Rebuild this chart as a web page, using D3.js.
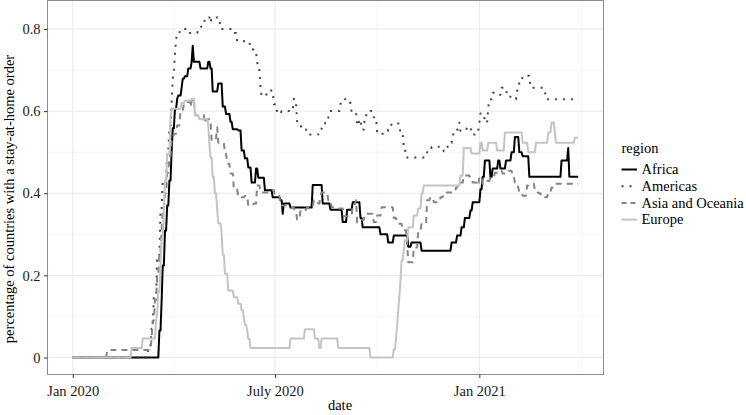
<!DOCTYPE html>
<html>
<head>
<meta charset="utf-8">
<script src="https://cdn.jsdelivr.net/npm/d3@7"></script>
<style>
  body { margin: 0; background: #fff; }
  text { font-family: "Liberation Serif", "DejaVu Serif", serif; }
</style>
</head>
<body>
<div id="chart"></div>
<script>
// day offsets are counted from 1 Jan 2020, values are shares of countries
const startDate = Date.UTC(2020, 0, 1);

const regions = ["Africa", "Americas", "Asia and Oceania", "Europe"];

const africa = [[0,0],[76,0],[78,0.066],[80,0.139],[81,0.224],[83,0.309],[85,0.37],[87,0.431],[89,0.504],[90,0.558],[92,0.606],[94,0.63],[95,0.638],[98,0.657],[99,0.679],[101,0.685],[104,0.704],[107,0.72],[108,0.759],[109,0.72],[115,0.704],[122,0.72],[124,0.704],[126,0.648],[131,0.667],[135,0.611],[138,0.593],[142,0.574],[144,0.556],[149,0.553],[152,0.504],[155,0.485],[158,0.463],[161,0.426],[165,0.46],[167,0.438],[173,0.407],[180,0.39],[187,0.383],[189,0.35],[190,0.375],[196,0.365],[216,0.42],[225,0.375],[232,0.36],[243,0.33],[247,0.36],[252,0.378],[259,0.34],[261,0.317],[277,0.3],[284,0.28],[289,0.297],[302,0.27],[305,0.28],[314,0.26],[341,0.28],[346,0.297],[350,0.317],[353,0.34],[358,0.358],[360,0.378],[367,0.41],[369,0.44],[371,0.48],[376,0.44],[378,0.46],[383,0.48],[385,0.46],[390,0.48],[395,0.5],[398,0.537],[402,0.5],[405,0.49],[411,0.44],[440,0.48],[446,0.51],[447,0.44],[455,0.44]];

const americas = [[0,0],[65,0],[68,0.03],[71,0.07],[73,0.15],[76,0.25],[79,0.36],[81,0.43],[85,0.504],[87,0.56],[89,0.618],[90,0.68],[91,0.7],[92,0.74],[93,0.775],[94,0.79],[97,0.8],[104,0.79],[113,0.8],[116,0.81],[119,0.828],[124,0.815],[125,0.828],[133,0.8],[145,0.79],[148,0.77],[160,0.75],[164,0.743],[166,0.72],[167,0.7],[169,0.657],[170,0.637],[175,0.65],[181,0.617],[184,0.594],[188,0.6],[199,0.63],[200,0.62],[202,0.572],[205,0.57],[206,0.555],[211,0.543],[222,0.557],[225,0.57],[228,0.584],[231,0.6],[241,0.618],[245,0.629],[250,0.618],[251,0.597],[256,0.565],[258,0.58],[260,0.555],[263,0.59],[268,0.6],[271,0.585],[274,0.545],[284,0.555],[287,0.57],[295,0.545],[298,0.509],[300,0.487],[319,0.5],[323,0.513],[334,0.502],[336,0.513],[340,0.523],[342,0.543],[346,0.555],[348,0.572],[349,0.552],[355,0.562],[359,0.543],[364,0.552],[366,0.572],[367,0.594],[371,0.572],[374,0.608],[375,0.629],[378,0.645],[383,0.64],[386,0.657],[391,0.635],[397,0.629],[400,0.65],[402,0.669],[405,0.686],[412,0.657],[425,0.65],[426,0.629],[455,0.629]];

const asiaOceania = [[0,0],[31,0.018],[70,0.018],[71,0.05],[72,0.09],[74,0.14],[76,0.2],[78,0.26],[80,0.31],[81,0.36],[83,0.4],[85,0.45],[87,0.49],[89,0.53],[91,0.545],[94,0.565],[97,0.6],[100,0.618],[104,0.625],[106,0.61],[107,0.625],[108,0.63],[110,0.59],[119,0.57],[120,0.58],[125,0.528],[129,0.535],[130,0.56],[131,0.523],[137,0.496],[139,0.472],[142,0.448],[145,0.41],[149,0.39],[155,0.394],[158,0.37],[163,0.375],[166,0.419],[169,0.402],[178,0.407],[182,0.394],[187,0.37],[194,0.366],[200,0.355],[202,0.336],[205,0.36],[211,0.366],[217,0.383],[221,0.375],[223,0.394],[224,0.402],[230,0.383],[233,0.366],[238,0.363],[244,0.344],[252,0.373],[255,0.383],[256,0.329],[260,0.335],[263,0.35],[271,0.33],[274,0.346],[278,0.366],[289,0.34],[292,0.326],[297,0.31],[301,0.277],[302,0.232],[307,0.268],[311,0.31],[314,0.326],[319,0.383],[322,0.39],[325,0.378],[331,0.39],[334,0.4],[337,0.402],[345,0.414],[347,0.426],[352,0.443],[358,0.436],[360,0.426],[364,0.419],[366,0.44],[369,0.423],[373,0.43],[376,0.44],[380,0.45],[383,0.455],[387,0.448],[392,0.455],[396,0.443],[398,0.426],[401,0.414],[402,0.402],[405,0.394],[409,0.419],[411,0.423],[416,0.407],[419,0.4],[422,0.39],[428,0.402],[431,0.414],[434,0.423],[455,0.423]];

const europe = [[0,0],[53,0.023],[63,0.046],[75,0.09],[76,0.107],[77,0.16],[79,0.229],[80,0.29],[82,0.358],[83,0.43],[85,0.496],[88,0.584],[89,0.606],[98,0.62],[101,0.625],[107,0.63],[110,0.59],[114,0.58],[122,0.565],[123,0.52],[124,0.487],[126,0.44],[128,0.4],[130,0.36],[131,0.327],[134,0.302],[135,0.25],[137,0.204],[140,0.163],[145,0.147],[149,0.131],[152,0.115],[154,0.098],[155,0.08],[157,0.066],[158,0.045],[160,0.023],[196,0.046],[209,0.069],[218,0.046],[222,0.023],[224,0.046],[239,0.023],[268,0],[289,0.02],[291,0.046],[292,0.08],[293,0.115],[294,0.15],[295,0.188],[296,0.237],[298,0.261],[299,0.285],[302,0.317],[307,0.346],[311,0.363],[314,0.4],[316,0.419],[349,0.443],[352,0.51],[359,0.497],[367,0.523],[369,0.504],[374,0.523],[382,0.504],[389,0.548],[405,0.523],[410,0.5],[417,0.523],[428,0.548],[431,0.572],[434,0.548],[435,0.523],[452,0.535],[455,0.535]];

const xTickDates = [Date.UTC(2020, 0, 1), Date.UTC(2020, 6, 1), Date.UTC(2021, 0, 1)];
const xTickLabels = ["Jan 2020", "July 2020", "Jan 2021"];
const yTickValues = [0, 0.2, 0.4, 0.6, 0.8];
const yTickLabels = ["0", "0.2", "0.4", "0.6", "0.8"];

const series = [africa, americas, asiaOceania, europe];
const lineColors = ["#000000", "#444444", "#858585", "#c4c4c4"];
const lineDash = [null, "2,6", "6,5", null];
const legendDash = [null, "2,6", "5,4", null];

const width = 746, height = 415;
const panel = { left: 47.5, right: 603.5, top: 0.5, bottom: 374.5 };

const dayToDate = (d) => new Date(startDate + d * 864e5);

// the values are daily, so each change is drawn across the one day before it
function dailyPath(s) {
  const out = [s[0]];
  for (let i = 1; i < s.length; i++) {
    const prev = s[i - 1], cur = s[i];
    if (cur[0] - 1 > prev[0]) out.push([cur[0] - 1, prev[1]]);
    out.push(cur);
  }
  return out;
}

const svg = d3.select("#chart").append("svg")
  .attr("width", width)
  .attr("height", height);

// ggplot-style 5% expansion of the data range
const allPts = series.flat();
const maxDay = d3.max(allPts, (d) => d[0]);
const maxVal = d3.max(allPts, (d) => d[1]);
const padDay = maxDay * 0.05, padVal = maxVal * 0.05;

const x = d3.scaleUtc()
  .domain([dayToDate(-padDay), dayToDate(maxDay + padDay)])
  .range([panel.left, panel.right]);

const y = d3.scaleLinear()
  .domain([-padVal, maxVal + padVal])
  .range([panel.bottom, panel.top]);

// grid
const g = svg.append("g");
const minorX = [
  (xTickDates[0] + xTickDates[1]) / 2,
  (xTickDates[1] + xTickDates[2]) / 2,
  xTickDates[2] + (xTickDates[2] - xTickDates[1]) / 2
];
const minorY = [0.1, 0.3, 0.5, 0.7];

g.selectAll(".minor-x").data(minorX).enter().append("line")
  .attr("x1", (d) => x(new Date(d))).attr("x2", (d) => x(new Date(d)))
  .attr("y1", panel.top).attr("y2", panel.bottom)
  .attr("stroke", "#f4f4f4").attr("stroke-width", 0.8);
g.selectAll(".minor-y").data(minorY).enter().append("line")
  .attr("x1", panel.left).attr("x2", panel.right)
  .attr("y1", (d) => y(d)).attr("y2", (d) => y(d))
  .attr("stroke", "#f4f4f4").attr("stroke-width", 0.8);
g.selectAll(".major-x").data(xTickDates).enter().append("line")
  .attr("x1", (d) => x(new Date(d))).attr("x2", (d) => x(new Date(d)))
  .attr("y1", panel.top).attr("y2", panel.bottom)
  .attr("stroke", "#e8e8e8").attr("stroke-width", 1);
g.selectAll(".major-y").data(yTickValues).enter().append("line")
  .attr("x1", panel.left).attr("x2", panel.right)
  .attr("y1", (d) => y(d)).attr("y2", (d) => y(d))
  .attr("stroke", "#e8e8e8").attr("stroke-width", 1);

// lines
const line = d3.line()
  .x((d) => x(dayToDate(d[0])))
  .y((d) => y(d[1]));

series.forEach((s, i) => {
  svg.append("path")
    .datum(dailyPath(s))
    .attr("fill", "none")
    .attr("stroke", lineColors[i])
    .attr("stroke-width", 2)
    .attr("stroke-dasharray", lineDash[i])
    .attr("stroke-linejoin", "round")
    .attr("d", line);
});

// panel border
svg.append("rect")
  .attr("x", panel.left).attr("y", panel.top)
  .attr("width", panel.right - panel.left)
  .attr("height", panel.bottom - panel.top)
  .attr("fill", "none").attr("stroke", "#8c8c8c").attr("stroke-width", 1);

// axes
const xAxis = svg.append("g")
  .attr("transform", `translate(0,${panel.bottom})`)
  .call(d3.axisBottom(x)
    .tickValues(xTickDates.map((d) => new Date(d)))
    .tickFormat((d, i) => xTickLabels[i])
    .tickSize(3.5).tickPadding(8));

const yAxis = svg.append("g")
  .attr("transform", `translate(${panel.left},0)`)
  .call(d3.axisLeft(y)
    .tickValues(yTickValues)
    .tickFormat((d, i) => yTickLabels[i])
    .tickSize(3.5).tickPadding(3.5));

[xAxis, yAxis].forEach((a) => {
  a.select(".domain").remove();
  a.selectAll(".tick line").attr("stroke", "#333");
  a.selectAll(".tick text")
    .attr("fill", "#1a1a1a")
    .style("font-size", "14.5px")
    .style("font-family", "'Liberation Serif', serif");
});

// axis titles
svg.append("text")
  .attr("x", 340).attr("y", 410)
  .attr("text-anchor", "middle")
  .style("font-size", "14.5px")
  .text("date");

svg.append("text")
  .attr("transform", "translate(14,199) rotate(-90)")
  .attr("text-anchor", "middle")
  .style("font-size", "14.5px")
  .text("percentage of countries with a stay-at-home order");

// legend
const legend = svg.append("g").attr("transform", "translate(621.5,0)");
legend.append("text")
  .attr("x", 0).attr("y", 153)
  .style("font-size", "14.5px")
  .text("region");

const items = legend.selectAll(".item").data(regions).enter().append("g")
  .attr("transform", (d, i) => `translate(0,${169.5 + i * 16.7})`);

items.append("line")
  .attr("x1", 0).attr("x2", 15.5)
  .attr("stroke", (d, i) => lineColors[i])
  .attr("stroke-width", 2)
  .attr("stroke-dasharray", (d, i) => legendDash[i]);

items.append("text")
  .attr("x", 20).attr("dy", "0.33em")
  .style("font-size", "14.5px")
  .text((d) => d);
</script>
</body>
</html>
